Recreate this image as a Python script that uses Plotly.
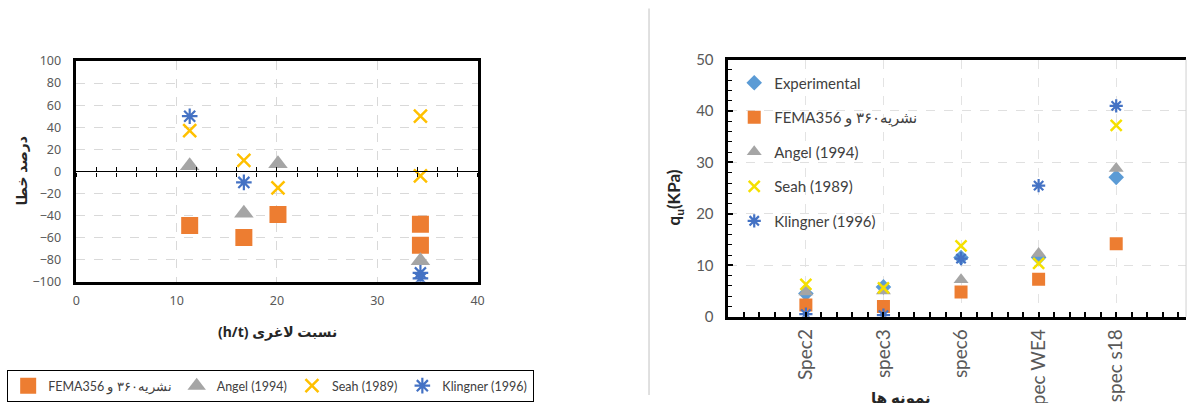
import plotly.graph_objects as go

W, H = 1197, 403

# ---------------- Left chart data (percent error vs slenderness) ----------------
fema_x = [11.3, 16.7, 20.1, 34.3, 34.3]
fema_y = [-49, -60, -39, -48, -67]
angel_x = [11.3, 16.7, 20.1, 34.3]
angel_y = [5, -38, 7, -81]
seah_x = [11.3, 16.7, 20.1, 34.3, 34.3]
seah_y = [37, 10, -15, 50, -4]
kling_x = [11.3, 16.7, 34.3, 34.3]
kling_y = [50, -10, -92, -97]

# ---------------- Right chart data (q_u per specimen) ----------------
specimens = ["Spec2", "spec3", "spec6", "spec WE4", "spec s18"]
spec_pos = [1, 2, 3, 4, 5]
exp_q = [4.5, 5.8, 11.5, 11.5, 27.1]
fema_q = [2.3, 2.0, 4.8, 7.3, 14.2]
angel_q = [4.8, 5.0, 7.2, 12.3, 28.8]
seah_q = [6.3, 5.6, 13.8, 10.4, 37.2]
kling_q = [0.5, 0.3, 11.3, 25.5, 41.0]

FEMA_NAME = "\u202bنشریه۳۶۰ و FEMA356\u202c"

ORANGE = "#ED7D31"
GRAY = "#A5A5A5"
YELLOW_L = "#FFC000"
YELLOW_R = "#F5E000"
BLUE = "#4472C4"
LBLUE = "#5B9BD5"


def px_x(p):
    return p / W


def px_y(p):
    # vertical compensation for how the page is photographed
    return 1 - ((p - 8.5) / 0.957) / H


fig = go.Figure()

# Left traces
fig.add_trace(go.Scatter(x=fema_x, y=fema_y, mode="markers", name=FEMA_NAME,
                         marker=dict(symbol="square", size=17, color=ORANGE),
                         xaxis="x", yaxis="y", legend="legend"))
fig.add_trace(go.Scatter(x=angel_x, y=angel_y, mode="markers", name="Angel (1994)",
                         marker=dict(symbol="triangle-up", size=17, color=GRAY),
                         xaxis="x", yaxis="y", legend="legend"))
fig.add_trace(go.Scatter(x=seah_x, y=seah_y, mode="markers", name="Seah (1989)",
                         marker=dict(symbol="x-thin", size=13, line=dict(width=2.5, color=YELLOW_L), color=YELLOW_L),
                         xaxis="x", yaxis="y", legend="legend"))
fig.add_trace(go.Scatter(x=kling_x, y=kling_y, mode="markers", name="Klingner (1996)",
                         marker=dict(symbol="asterisk", size=13, line=dict(width=2.2, color=BLUE), color=BLUE),
                         xaxis="x", yaxis="y", legend="legend"))

# Right traces
fig.add_trace(go.Scatter(x=spec_pos, y=exp_q, mode="markers", name="Experimental",
                         marker=dict(symbol="diamond", size=12, color=LBLUE),
                         xaxis="x2", yaxis="y2", legend="legend2", legendgroup="a"))
fig.add_trace(go.Scatter(x=spec_pos, y=fema_q, mode="markers", name=FEMA_NAME,
                         marker=dict(symbol="square", size=13, color=ORANGE),
                         xaxis="x2", yaxis="y2", legend="legend2", legendgroup="b"))
fig.add_trace(go.Scatter(x=spec_pos, y=angel_q, mode="markers", name="Angel (1994)",
                         marker=dict(symbol="triangle-up", size=13, color=GRAY),
                         xaxis="x2", yaxis="y2", legend="legend2", legendgroup="c"))
fig.add_trace(go.Scatter(x=spec_pos, y=seah_q, mode="markers", name="Seah (1989)",
                         marker=dict(symbol="x-thin", size=11, line=dict(width=2.5, color=YELLOW_R), color=YELLOW_R),
                         xaxis="x2", yaxis="y2", legend="legend2", legendgroup="d"))
fig.add_trace(go.Scatter(x=spec_pos, y=kling_q, mode="markers", name="Klingner (1996)",
                         marker=dict(symbol="asterisk", size=11, line=dict(width=2.2, color=BLUE), color=BLUE),
                         xaxis="x2", yaxis="y2", legend="legend2", legendgroup="e"))

L_XD = [px_x(73), px_x(478)]
L_YD = [px_y(281), px_y(60.5)]
R_XD = [px_x(731), px_x(1193)]
R_YD = [px_y(316), px_y(59)]
zero_pos = (L_YD[0] + L_YD[1]) / 2

lfont = dict(family="Noto Sans, DejaVu Sans, sans-serif", size=12.5, color="#595959")
rfont = dict(family="Lato, Noto Sans, sans-serif", size=15, color="#595959")
rxfont = dict(family="Lato, Noto Sans, sans-serif", size=19, color="#595959")

fig.update_layout(
    width=W, height=H,
    margin=dict(l=0, r=0, t=0, b=0),
    paper_bgcolor="white", plot_bgcolor="white",
    xaxis=dict(domain=L_XD, anchor="y", range=[0, 40], dtick=10, tick0=0,
               showline=True, mirror=True, linecolor="black", linewidth=2.5,
               showgrid=True, gridcolor="#D9D9D9", griddash="dash", gridwidth=1.2,
               zeroline=False, ticks="", tickfont=lfont, ticklabelstandoff=6),
    yaxis=dict(domain=L_YD, anchor="x", range=[-100, 100], dtick=20, tick0=0,
               showline=True, mirror=True, linecolor="black", linewidth=2.5,
               showgrid=True, gridcolor="#D9D9D9", griddash="dash", gridwidth=1.2,
               zeroline=False, ticks="", tickfont=lfont, ticklabelstandoff=10),
    xaxis3=dict(overlaying="x", anchor="free", position=zero_pos, range=[0, 40],
                domain=L_XD, showline=True, linecolor="black", linewidth=1.3,
                ticks="outside", ticklen=4, tickwidth=1.2, tickcolor="black", dtick=2, tick0=0,
                showticklabels=False, showgrid=False, zeroline=False),
    xaxis4=dict(overlaying="x", anchor="free", position=zero_pos, range=[0, 40],
                domain=L_XD, showline=False,
                ticks="inside", ticklen=4, tickwidth=1.2, tickcolor="black", dtick=2, tick0=0,
                showticklabels=False, showgrid=False, zeroline=False),
    xaxis2=dict(domain=R_XD, anchor="y2", range=[0, 5.9],
                tickmode="array", tickvals=spec_pos, ticktext=specimens, tickangle=-90,
                ticks="inside", ticklen=5, tickwidth=1.5, tickcolor="black",
                minor=dict(tickmode="linear", tick0=0, dtick=0.2, ticks="inside", ticklen=5,
                           tickwidth=1.5, tickcolor="black", showgrid=False),
                showline=True, mirror=True, linecolor="black", linewidth=2.5,
                showgrid=True, gridcolor="#E3E3E3", griddash="dash", gridwidth=1.2,
                zeroline=False, tickfont=rxfont, ticklabelstandoff=2, automargin=False),
    yaxis2=dict(domain=R_YD, anchor="x2", range=[0, 50], dtick=10, tick0=0,
                ticks="inside", ticklen=5, tickwidth=1.5, tickcolor="black",
                minor=dict(dtick=2, tick0=0, ticks="inside", ticklen=4, tickwidth=1.2,
                           tickcolor="black", showgrid=False),
                showline=True, mirror=False, linecolor="black", linewidth=2.5,
                showgrid=True, gridcolor="#E0E0E0", griddash="dash", gridwidth=1.2,
                zeroline=False, tickfont=rfont, ticklabelstandoff=9, automargin=False),
    legend=dict(orientation="h", x=px_x(3), y=px_y(369), xanchor="left", yanchor="top",
                bordercolor="black", borderwidth=1.2, bgcolor="white",
                font=dict(family="Lato, Noto Sans, sans-serif", size=12.5, color="#404040"),
                itemwidth=30),
    legend2=dict(orientation="v", x=px_x(737), y=px_y(66), xanchor="left", yanchor="top",
                 bgcolor="rgba(0,0,0,0)", borderwidth=0, tracegroupgap=12,
                 font=dict(family="Lato, Noto Sans, sans-serif", size=15, color="#404040"),
                 itemwidth=30),
    showlegend=True,
)

# Invisible helper traces so the zero-line tick axes are drawn (use existing data arrays)
fig.add_trace(go.Scatter(x=fema_x, y=fema_y, mode="markers", marker=dict(opacity=0),
                         xaxis="x3", yaxis="y", showlegend=False, hoverinfo="skip"))
fig.add_trace(go.Scatter(x=fema_x, y=fema_y, mode="markers", marker=dict(opacity=0),
                         xaxis="x4", yaxis="y", showlegend=False, hoverinfo="skip"))

annotations = [
    dict(text="<b>درصد خطا</b>", x=px_x(18), y=px_y(170), xref="paper", yref="paper",
         xanchor="center", yanchor="middle",
         textangle=-90, showarrow=False, font=dict(family="Noto Sans, DejaVu Sans", size=14, color="#262626")),
    dict(text="<b>(h/t) نسبت لاغری</b>", x=px_x(276), y=px_y(331), xref="paper", yref="paper",
         xanchor="center", yanchor="middle",
         showarrow=False, font=dict(family="Noto Sans, DejaVu Sans", size=14, color="#262626")),
    dict(text="<b>q<sub>u</sub>(KPa)</b>", x=px_x(677), y=px_y(197), xref="paper", yref="paper",
         xanchor="center", yanchor="middle",
         textangle=-90, showarrow=False, font=dict(family="Lato, Noto Sans", size=17, color="#262626")),
    dict(text="<b>نمونه ها</b>", x=px_x(905), y=px_y(384), xref="paper", yref="paper",
         xanchor="center", yanchor="top", showarrow=False,
         font=dict(family="Noto Sans, DejaVu Sans", size=15, color="#262626")),
]
fig.update_layout(annotations=annotations)

# thin separator line between the two panels and faint right edge of the right panel
fig.add_shape(type="line", xref="paper", yref="paper", x0=px_x(651), x1=px_x(651),
              y0=0, y1=px_y(8), line=dict(color="#D6D6D6", width=1.5))
fig.add_shape(type="line", xref="x2 domain", yref="y2 domain", x0=1, x1=1, y0=0, y1=1,
              line=dict(color="#D0D0D0", width=1))

POST = ("document.documentElement.style.overflow='hidden';"
        "document.body.style.margin='0px';document.body.style.overflow='hidden';"
        "var gd=document.getElementById('{plot_id}');gd.style.overflow='hidden';"
        "var s=gd.querySelectorAll('svg');for(var i=0;i<s.length;i++){s[i].style.overflow='hidden';}")

fig.write_html("out.html", config={"displayModeBar": False}, post_script=POST)
